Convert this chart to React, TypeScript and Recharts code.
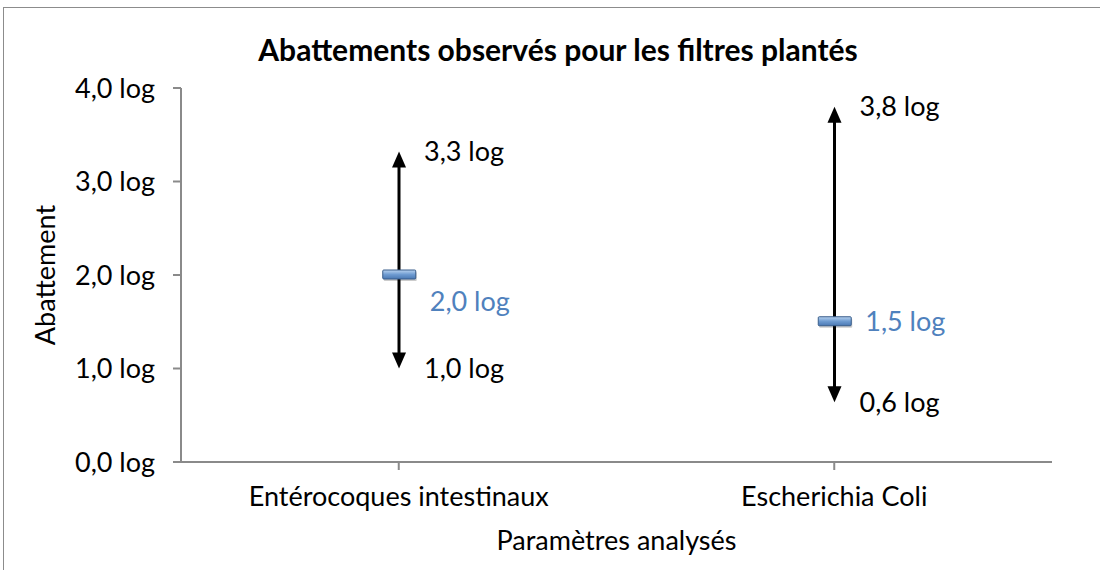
import React from "react";
import { ComposedChart, Bar, Line, XAxis, YAxis } from "recharts";

// parameters and removal (log)
const parametres = ["Entérocoques intestinaux", "Escherichia Coli"];
const minimum = [1.0, 0.64];
const moyenne = [2.0, 1.5];
const maximum = [3.32, 3.8];
const yTicks = [0, 1, 2, 3, 4];

const data = parametres.map((name, i) => ({
  name,
  min: minimum[i],
  mean: moyenne[i],
  max: maximum[i],
}));

const FONT = "Lato, 'Open Sans', sans-serif";
const AXIS = "#8a8a8a";
const BLUE = "#4F81BD";
const FS = 27;

const fmt = (v: number) => `${v.toFixed(1).replace(".", ",")} log`;

// vertical line with arrow heads from min to max
const RangeArrow = (props: any) => {
  const { x, y, width, height, payload } = props;
  const cx = x + width / 2;
  const top = y;
  const bottom = y + height;
  const ah = 16;
  const aw = 7;
  return (
    <g>
      <line x1={cx} x2={cx} y1={top + ah - 2} y2={bottom - ah + 2} stroke="#000" strokeWidth={3} />
      <polygon points={`${cx},${top} ${cx - aw},${top + ah} ${cx + aw},${top + ah}`} fill="#000" />
      <polygon points={`${cx},${bottom} ${cx - aw},${bottom - ah} ${cx + aw},${bottom - ah}`} fill="#000" />
      <text x={cx + 25} y={top} dy="0.35em" fontSize={FS} fontFamily={FONT} fill="#000">
        {fmt(payload.max)}
      </text>
      <text x={cx + 25} y={bottom} dy="0.35em" fontSize={FS} fontFamily={FONT} fill="#000">
        {fmt(payload.min)}
      </text>
    </g>
  );
};

const MeanMarker = (props: any) => {
  const { cx, cy, index, payload } = props;
  if (cx == null || cy == null) return null;
  // first label sits under the marker, the second one beside it
  const labelDy = index === 0 ? 27 : 0;
  return (
    <g key={`m-${index}`}>
      <rect x={cx - 15} y={cy - 3} width={33} height={9} fill="#000" opacity={0.2} rx={1} />
      <rect x={cx - 16} y={cy - 5} width={33} height={9} fill="url(#meanGrad)" stroke="#385D8A" strokeWidth={1} rx={1} />
      <text x={cx + 31} y={cy + labelDy} dy="0.35em" fontSize={FS} fontFamily={FONT} fill={BLUE}>
        {fmt(payload.mean)}
      </text>
    </g>
  );
};

export default function App() {
  return (
    <div
      style={{
        position: "fixed",
        left: 0,
        top: 0,
        width: 1100,
        height: 570,
        overflow: "hidden",
        background: "#fff",
        fontFamily: FONT,
      }}
    >
      <div
        style={{
          position: "absolute",
          left: 3,
          top: 7,
          width: 1200,
          height: 700,
          borderLeft: "1px solid #8c8c8c",
          borderTop: "1px solid #8c8c8c",
        }}
      />
      <div
        style={{
          position: "absolute",
          left: 0,
          width: 1116,
          top: 31,
          textAlign: "center",
          fontWeight: 700,
          fontSize: 30,
          lineHeight: "36px",
          color: "#000",
        }}
      >
        Abattements observés pour les filtres plantés
      </div>
      <div style={{ position: "absolute", left: 0, top: 0 }}>
        <ComposedChart
          width={1100}
          height={570}
          data={data}
          margin={{ top: 88, right: 48, bottom: 18, left: 41 }}
        >
          <defs>
            <linearGradient id="meanGrad" x1="0" y1="0" x2="0" y2="1">
              <stop offset="0%" stopColor="#B9D3F0" />
              <stop offset="50%" stopColor="#6E9BD1" />
              <stop offset="100%" stopColor="#4A78B3" />
            </linearGradient>
          </defs>
          <XAxis
            xAxisId="edge"
            type="number"
            domain={[0, 2]}
            ticks={[0, 2]}
            height={0}
            tickSize={8}
            tickFormatter={() => ""}
            stroke={AXIS}
            strokeWidth={2}
            allowDataOverflow
          />
          <XAxis
            dataKey="name"
            height={90}
            tickSize={8}
            tickMargin={17}
            stroke={AXIS}
            strokeWidth={2}
            tick={{ fill: "#000", fontSize: FS, fontFamily: FONT }}
            label={{
              value: "Paramètres analysés",
              position: "insideBottom",
              offset: 2,
              fill: "#000",
              fontSize: FS,
              fontFamily: FONT,
            }}
          />
          <YAxis
            domain={[0, 4]}
            ticks={yTicks}
            width={140}
            tickSize={8}
            tickMargin={18}
            stroke={AXIS}
            strokeWidth={2}
            tickFormatter={fmt}
            tick={{ fill: "#000", fontSize: FS, fontFamily: FONT }}
            label={{
              value: "Abattement",
              angle: -90,
              position: "insideLeft",
              offset: 4,
              fill: "#000",
              fontSize: FS,
              fontFamily: FONT,
              style: { textAnchor: "middle" },
            }}
          />
          <Bar
            dataKey={(d: any) => [d.min, d.max]}
            barSize={20}
            shape={<RangeArrow />}
            isAnimationActive={false}
          />
          <Line
            dataKey="mean"
            stroke="none"
            dot={(p: any) => <MeanMarker {...p} />}
            activeDot={false}
            isAnimationActive={false}
          />
        </ComposedChart>
      </div>
    </div>
  );
}
